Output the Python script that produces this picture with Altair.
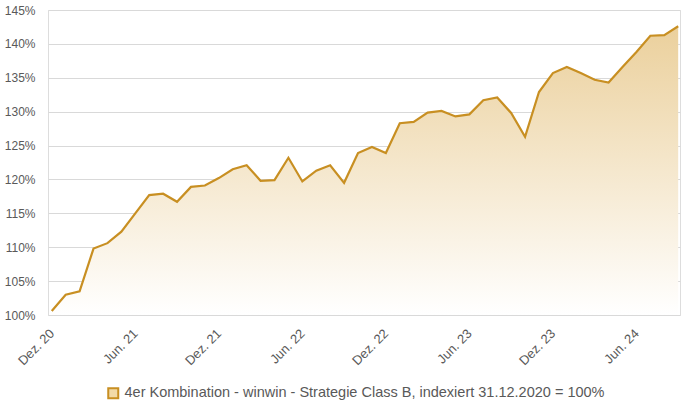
import altair as alt
import pandas as pd

# Monthly index values (Dez. 20 .. Sep. 24), in percent
values = [100.6, 103.0, 103.5, 109.8, 110.6, 112.3, 115.0, 117.7, 117.9, 116.7,
          118.9, 119.1, 120.2, 121.5, 122.1, 119.8, 119.9, 123.2, 119.7, 121.3,
          122.1, 119.5, 123.9, 124.8, 123.9, 128.3, 128.5, 129.85, 130.1, 129.3,
          129.6, 131.7, 132.1, 129.8, 126.3, 132.9, 135.7, 136.6, 135.7, 134.7,
          134.3, 136.6, 138.8, 141.2, 141.3, 142.6]
tick_labels = ["Dez. 20", "Jun. 21", "Dez. 21", "Jun. 22", "Dez. 22",
               "Jun. 23", "Dez. 23", "Jun. 24"]
series_name = "4er Kombination - winwin - Strategie Class B, indexiert 31.12.2020 = 100%"
y_ticks = [100, 105, 110, 115, 120, 125, 130, 135, 140, 145]

df = pd.DataFrame({
    "i": list(range(len(values))),
    "v": values,
    "base": [100] * len(values),
    "s": [series_name] * len(values),
})

label_arr = "[" + ",".join("'" + t + "'" for t in tick_labels) + "]"

x_enc = alt.X("i:Q",
              scale=alt.Scale(domain=[-0.27, 45.13], nice=False, zero=False),
              axis=alt.Axis(values=[6 * k for k in range(len(tick_labels))],
                            labelExpr=label_arr + "[round(datum.value/6)]",
                            labelAngle=-45, labelAlign="right", labelBaseline="middle",
                            labelPadding=16, ticks=False, domain=False, grid=False,
                            labelOverlap=False, title=None, labelFont="Liberation Sans",
                            labelFontSize=13, labelColor="#595959"))
y_enc = alt.Y("v:Q", scale=alt.Scale(domain=[100, 145], nice=False, zero=False),
              axis=alt.Axis(values=y_ticks, labelExpr="datum.value + '%'",
                            ticks=False, domain=False, grid=True, gridColor="#D9D9D9",
                            labelOverlap=False, title=None, labelFont="Liberation Sans",
                            labelFontSize=12, labelColor="#595959", labelPadding=13))

base = alt.Chart(df)

area = base.mark_area(
    color=alt.Gradient(
        gradient="linear",
        stops=[alt.GradientStop(color="#EBD09C", offset=0),
               alt.GradientStop(color="#FFFFFF", offset=1)],
        x1=1, x2=1, y1=0, y2=1,
    )
).encode(x=x_enc, y=y_enc, y2="base:Q")

line = base.mark_line(strokeWidth=2.2).encode(
    x=x_enc,
    y=y_enc,
    color=alt.Color("s:N", scale=alt.Scale(range=["#C88F22"]),
                    legend=alt.Legend(title=None, orient="none", legendX=58, legendY=376,
                                      symbolType="square", symbolSize=100,
                                      symbolFillColor="#F2DAA8", symbolStrokeWidth=2,
                                      labelFont="Liberation Sans", labelFontSize=14.5,
                                      labelColor="#595959", labelLimit=700)),
)

chart = (area + line).properties(
    width=632, height=305,
    autosize=alt.AutoSizeParams(type="none"),
    padding={"left": 48, "top": 10, "right": 1, "bottom": 97},
).configure_view(stroke=None).configure(background="#FFFFFF")

chart.save("out.html", embed_options={"renderer": "svg", "actions": False})
